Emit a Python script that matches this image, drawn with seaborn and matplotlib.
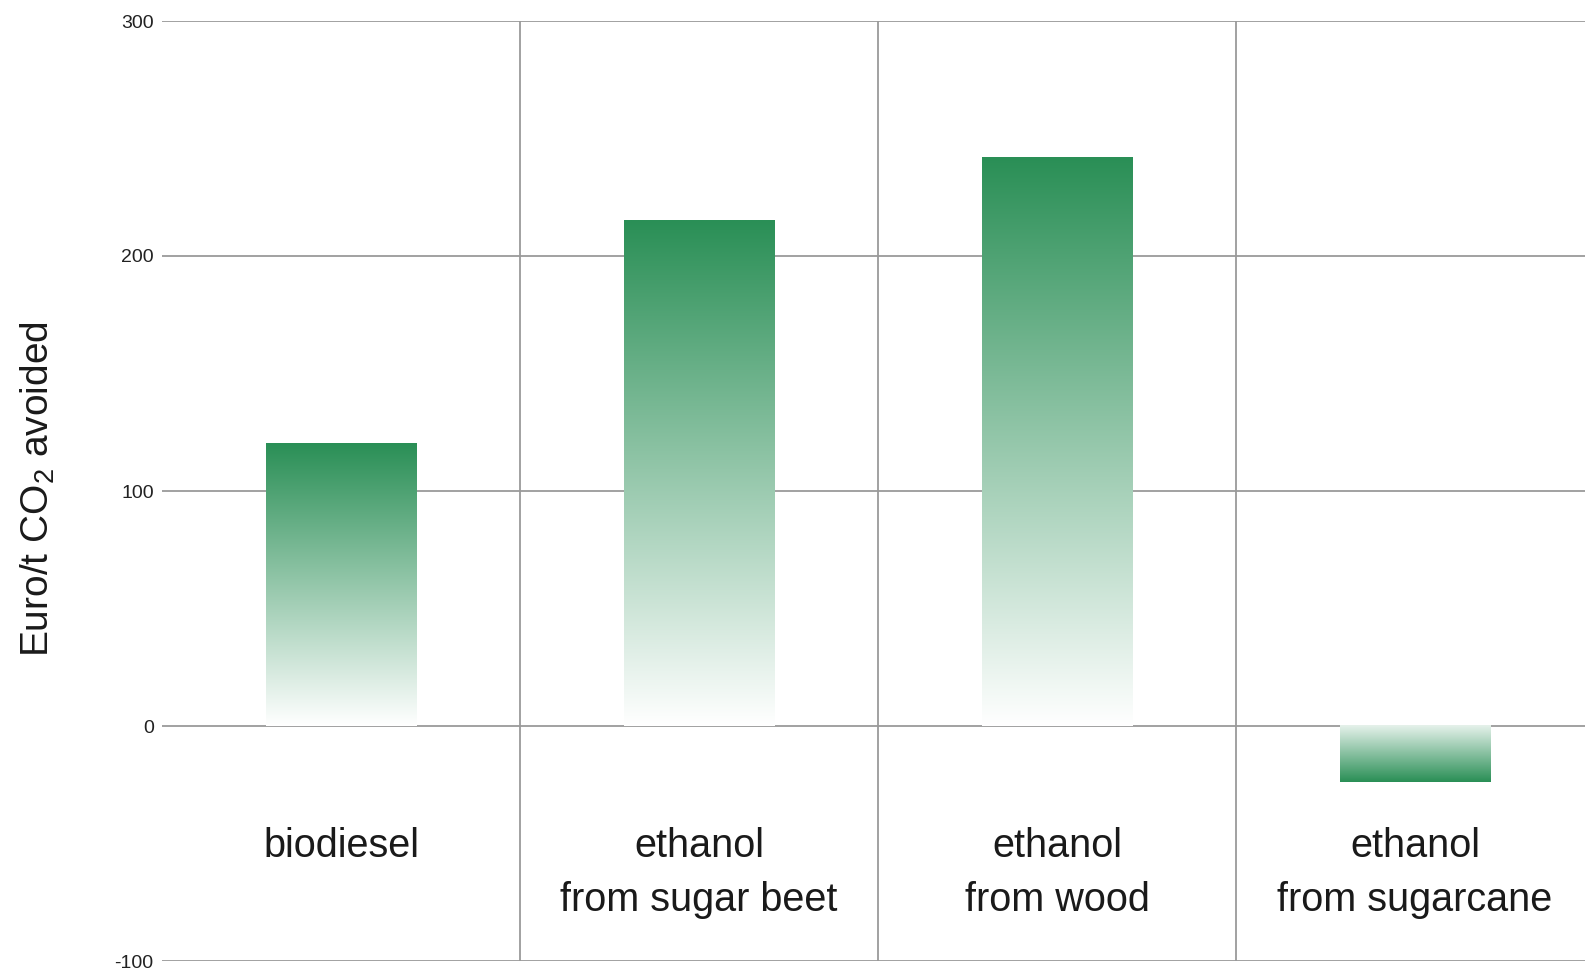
import numpy as np
import pandas as pd
import seaborn as sns
import matplotlib.pyplot as plt
from matplotlib.colors import LinearSegmentedColormap

# data
fuels = ["biodiesel", "ethanol\nfrom sugar beet", "ethanol\nfrom wood", "ethanol\nfrom sugarcane"]
cost_per_t = [120, 215, 242, -24]
y_ticks = [-100, 0, 100, 200, 300]

df = pd.DataFrame({"fuel": fuels, "cost": cost_per_t})

sns.set_theme(style="white")
plt.rcParams["font.family"] = ["Liberation Sans", "DejaVu Sans"]
plt.rcParams["mathtext.fontset"] = "custom"
plt.rcParams["mathtext.rm"] = "Liberation Sans"
plt.rcParams["axes.unicode_minus"] = False

W, H = 1585, 971
fig = plt.figure(figsize=(W / 100, H / 100), dpi=100)
fig.patch.set_facecolor("white")
ax = fig.add_axes([162 / W, 10 / H, (1594 - 162) / W, 940 / H])

sns.barplot(data=df, x="fuel", y="cost", ax=ax, width=0.42, color="#2a8f56")

# replace flat bars with a white -> green gradient
green = LinearSegmentedColormap.from_list("fade", ["#ffffff", "#2a8f56"])
for patch in ax.patches:
    x0, y0 = patch.get_x(), patch.get_y()
    w, h = patch.get_width(), patch.get_height()
    lo, hi = min(y0, y0 + h), max(y0, y0 + h)
    if h >= 0:
        grad = np.linspace(0.0, 1.0, 256).reshape(-1, 1)
    else:
        grad = np.linspace(1.0, 0.12, 256).reshape(-1, 1)
    ax.imshow(grad, cmap=green, vmin=0, vmax=1, extent=[x0, x0 + w, lo, hi],
              origin="lower", aspect="auto", zorder=2, interpolation="bilinear")
    patch.set_visible(False)

ax.set_xlim(-0.5, 3.5)
ax.set_ylim(-100, 300)
ax.set_yticks(y_ticks)
ax.set_xticks([])
ax.set_xticks([0.5, 1.5, 2.5], minor=True)
ax.set_axisbelow(True)
ax.grid(axis="y", which="major", color="#9a9a9a", linewidth=1.3)
ax.grid(axis="x", which="minor", color="#9a9a9a", linewidth=1.3)
for s in ax.spines.values():
    s.set_visible(False)
ax.tick_params(axis="y", length=0, pad=6, labelsize=14, labelcolor="#222222")
ax.tick_params(axis="x", which="both", length=0)
ax.set_xlabel("")

# category names sit inside the plot below the zero line
for i, name in enumerate(fuels):
    ax.text(i, -43, name, ha="center", va="top", fontsize=28.5,
            color="#1a1a1a", linespacing=1.52)

ax.set_ylabel("Euro/t CO$_\\mathregular{2}$ avoided", fontsize=28, color="#1a1a1a")
ax.yaxis.set_label_coords(-0.073, 0.502)

fig.savefig("out.png", dpi=100, facecolor="white")
